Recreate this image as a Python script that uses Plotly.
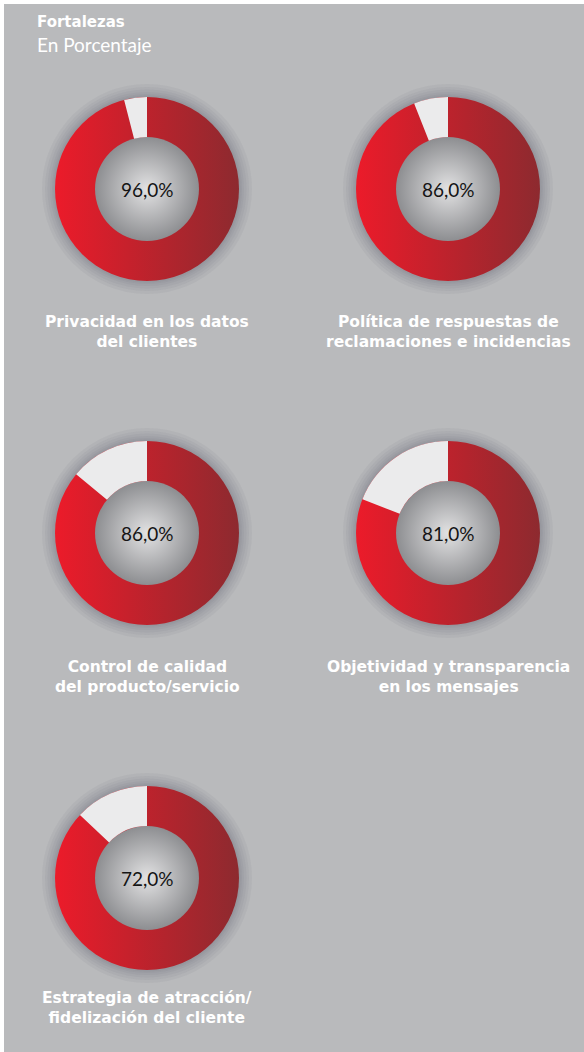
import plotly.graph_objects as go

# ---------------- data ----------------
categories = [
    "Privacidad en los datos<br>del clientes",
    "Política de respuestas de<br>reclamaciones e incidencias",
    "Control de calidad<br>del producto/servicio",
    "Objetividad y transparencia<br>en los mensajes",
    "Estrategia de atracción/<br>fidelización del cliente",
]
# value printed in the centre of each ring (percent)
printed_pct = [96.0, 86.0, 86.0, 81.0, 72.0]
# share of the ring drawn in red
red_share = [96.0, 94.0, 86.0, 81.0, 87.0]

title_main = "Fortalezas"
title_sub = "En Porcentaje"

# ---------------- layout parameters (pixels) ----------------
W, H = 584, 1052
col_x = [147, 448]
row_y = [189, 533, 878]
label_y = [332, 677, 1008]
R = 92
HOLE = 0.565

BG = "#b9babc"
RED_LEFT = "#ec1b2a"
RED_RIGHT = "#8d2a2f"
WHITE_SLICE = "#ebebec"

fig = go.Figure()

positions = []
for i in range(len(categories)):
    r, c = divmod(i, 2)
    positions.append((col_x[c], row_y[r], label_y[r]))

xs = [p[0] for p in positions]
ys = [p[1] for p in positions]

# soft shadow halos around the rings
for k, extra in enumerate([26, 20, 15, 10, 6, 3]):
    fig.add_trace(go.Scatter(
        x=xs, y=ys, mode="markers", hoverinfo="skip", showlegend=False,
        marker=dict(size=2 * R + extra, color="rgba(80,80,85,0.055)",
                    line=dict(width=0)),
    ))

# horizontal red gradient under the ring
fig.add_trace(go.Scatter(
    x=xs, y=ys, mode="markers", hoverinfo="skip", showlegend=False,
    marker=dict(size=2 * R, color=RED_LEFT, line=dict(width=0),
                gradient=dict(type="horizontal", color=RED_RIGHT)),
))

# grey radial disc visible in the hole
fig.add_trace(go.Scatter(
    x=xs, y=ys, mode="markers", hoverinfo="skip", showlegend=False,
    marker=dict(size=2 * R * HOLE, color="#8d8e91", line=dict(width=0),
                gradient=dict(type="radial", color="#e2e2e3")),
))

# the rings themselves
for i, (cx, cy, ly) in enumerate(positions):
    fig.add_trace(go.Pie(
        values=[red_share[i], 100 - red_share[i]],
        labels=["Sí", "No"],
        hole=HOLE, sort=False, direction="clockwise", rotation=0,
        textinfo="none", hoverinfo="skip", showlegend=False,
        marker=dict(colors=["rgba(0,0,0,0)", WHITE_SLICE],
                    line=dict(width=0)),
        domain=dict(x=[(cx - R) / W, (cx + R) / W],
                    y=[1 - (cy + R) / H, 1 - (cy - R) / H]),
    ))
    fig.add_annotation(
        x=cx, y=cy, xref="x", yref="y", showarrow=False,
        text=f"{printed_pct[i]:.1f}%".replace(".", ","),
        font=dict(family="Lato", size=19, color="#151515"),
    )
    fig.add_annotation(
        x=cx, y=ly, xref="x", yref="y", showarrow=False,
        text=f"<b>{categories[i]}</b>", align="center",
        font=dict(family="DejaVu Sans", size=15.5, color="white"),
        yanchor="middle",
    )

fig.add_annotation(x=35, y=22, xref="x", yref="y", showarrow=False,
                   xanchor="left", yanchor="middle",
                   text=f"<b>{title_main}</b>",
                   font=dict(family="DejaVu Sans", size=15, color="white"))
fig.add_annotation(x=35, y=44, xref="x", yref="y", showarrow=False,
                   xanchor="left", yanchor="middle",
                   text=title_sub,
                   font=dict(family="Lato", size=19, color="white"))

fig.add_shape(type="rect", xref="x", yref="y", x0=4, x1=W, y0=4, y1=H,
              fillcolor=BG, line=dict(width=0), layer="below")

fig.update_layout(
    width=W, height=H, margin=dict(l=0, r=0, t=0, b=0),
    paper_bgcolor="white", plot_bgcolor="white",
    xaxis=dict(range=[0, W], visible=False, fixedrange=True, domain=[0, 1]),
    yaxis=dict(range=[H, 0], visible=False, fixedrange=True, domain=[0, 1]),
    showlegend=False,
)

fig.write_html("out.html", config={"displayModeBar": False},
               post_script="document.body.style.margin='0px';")
